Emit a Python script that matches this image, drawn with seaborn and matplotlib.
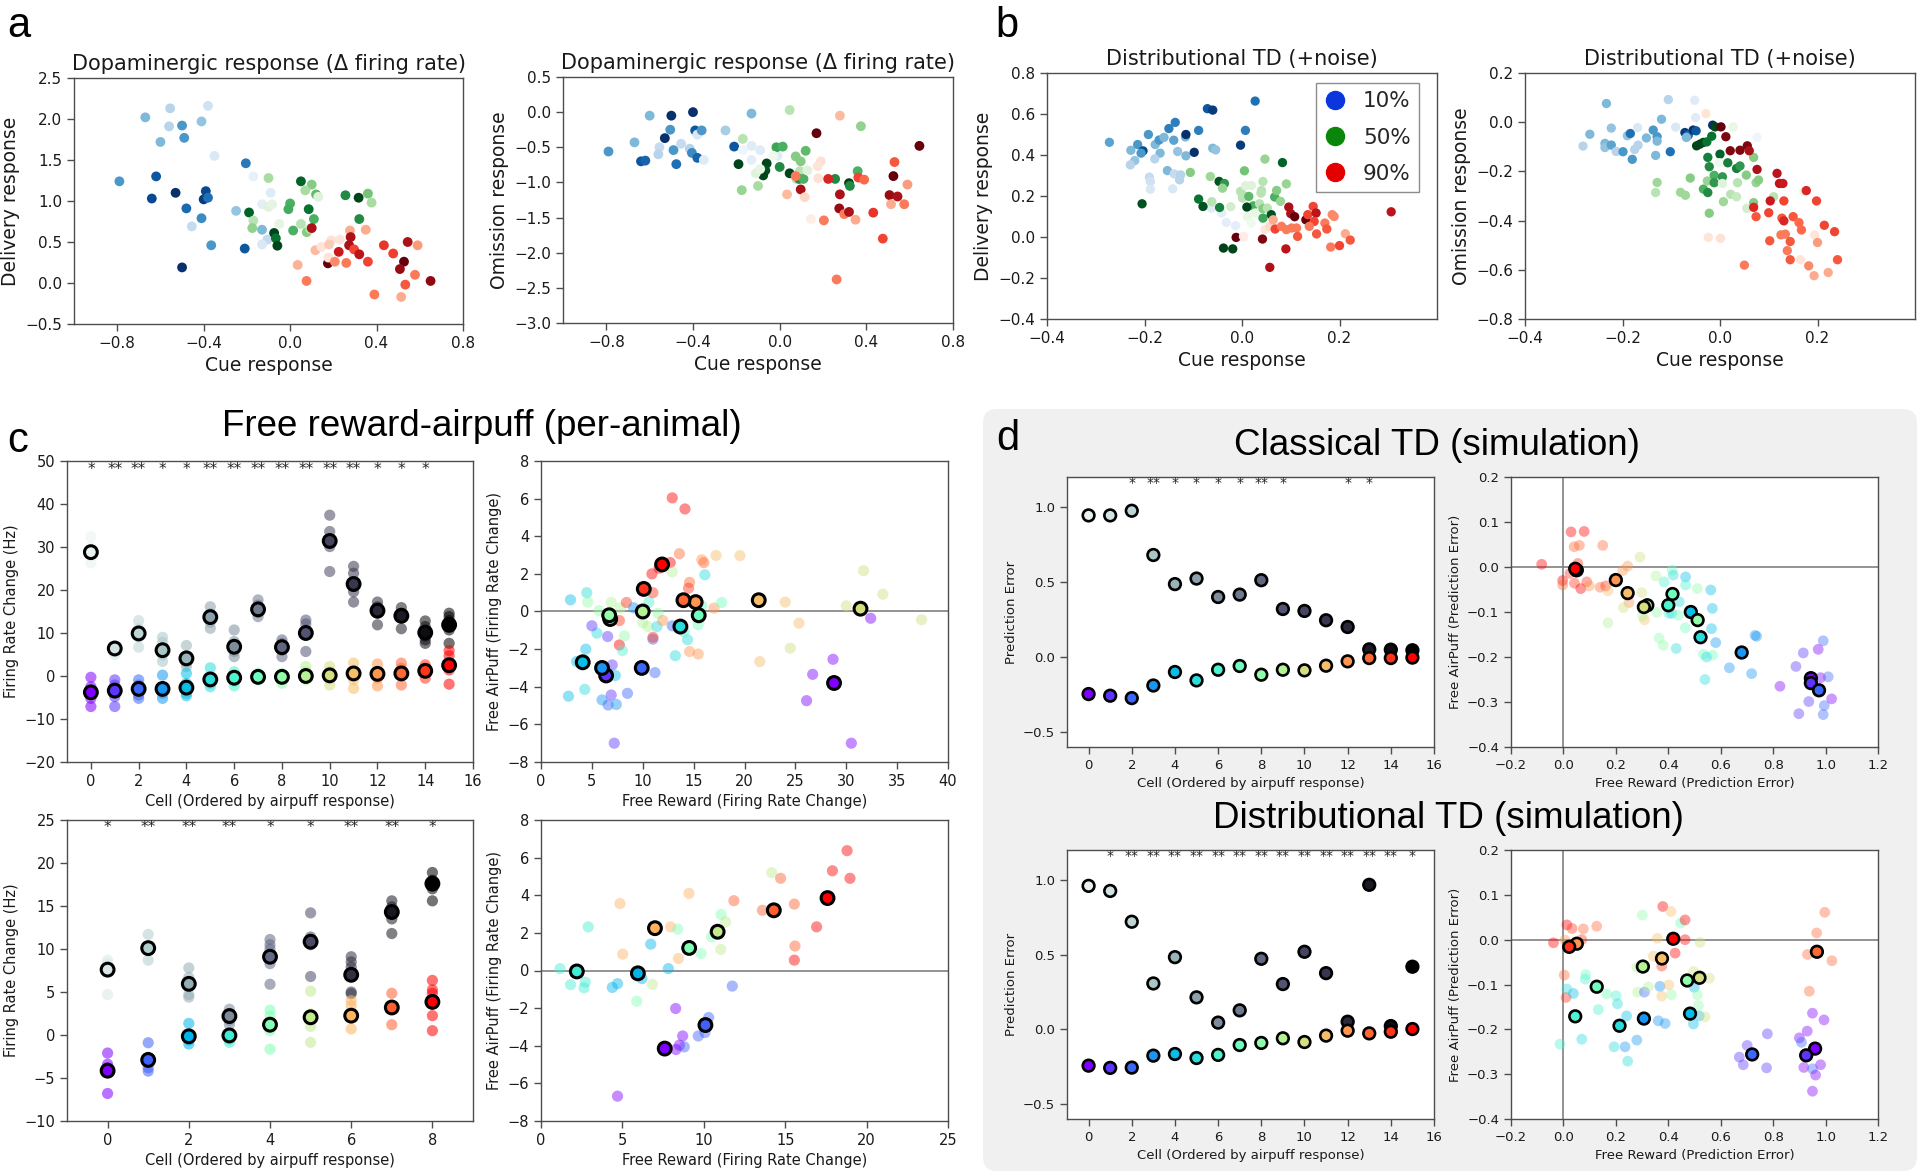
import numpy as np
import pandas as pd
import matplotlib
matplotlib.use("Agg")
import matplotlib.pyplot as plt
import seaborn as sns
from matplotlib.lines import Line2D
from matplotlib.patches import FancyBboxPatch
from matplotlib.transforms import IdentityTransform

# ---------------- data: panel a (x, y, shade) ----------------
A1_BLUE = [(-0.79, 1.24, .6), (-0.67, 2.02, .45), (-0.555, 2.13, .3), (-0.56, 1.91, .3), (-0.50, 1.92, .6),
           (-0.49, 1.77, .6), (-0.60, 1.72, .45), (-0.41, 1.97, .4), (-0.38, 2.16, .2), (-0.35, 1.55, .15),
           (-0.205, 1.46, .72), (-0.17, 1.30, .08), (-0.62, 1.30, .85), (-0.64, 1.03, .9), (-0.53, 1.10, 1.0),
           (-0.39, 1.12, .9), (-0.40, 1.02, .95), (-0.38, 1.04, .75), (-0.48, 0.91, .78), (-0.41, 0.79, .65),
           (-0.455, 0.69, .25), (-0.365, 0.46, .6), (-0.50, 0.19, 1.0), (-0.25, 0.88, .4), (-0.21, 0.42, .85),
           (-0.13, 0.65, .45), (-0.09, 1.10, .12), (-0.13, 0.96, .1), (-0.105, 0.53, .25), (-0.13, 0.47, .15)]
A1_GREEN = [(-0.10, 1.28, .35), (0.05, 1.24, .9), (0.10, 1.20, .45), (0.07, 1.13, .35), (0.12, 1.08, .55),
            (0.13, 1.05, .15), (0.256, 1.07, .75), (0.317, 1.04, 1.0), (0.36, 1.09, .5), (0.377, 0.98, .35),
            (0.32, 0.78, .75), (0.0, 0.97, .6), (-0.008, 0.90, .62), (0.086, 0.90, .85), (0.11, 0.78, .6),
            (-0.19, 0.86, .9), (-0.17, 0.76, .3), (-0.175, 0.67, .42), (-0.10, 0.93, .15), (-0.083, 0.96, .12),
            (-0.05, 0.72, .12), (-0.074, 0.61, 1.0), (-0.066, 0.545, .85), (-0.059, 0.455, 1.0), (0.014, 0.64, .6),
            (0.05, 0.72, .3), (0.077, 0.62, .45), (0.093, 0.66, .3)]
A1_RED = [(0.10, 0.67, .85), (0.117, 0.40, .25), (0.145, 0.44, .1), (0.19, 0.52, .12), (0.23, 0.53, .1),
          (0.18, 0.47, .2), (0.175, 0.24, 1.0), (0.177, 0.31, .1), (0.207, 0.26, .4), (0.225, 0.38, .75),
          (0.035, 0.22, .28), (0.076, 0.025, .45), (0.26, 0.245, .45), (0.277, 0.64, .3), (0.28, 0.56, .85),
          (0.273, 0.46, .85), (0.296, 0.41, .6), (0.32, 0.35, .8), (0.36, 0.26, .6), (0.35, 0.65, .3),
          (0.39, -0.14, .45), (0.434, 0.46, .65), (0.477, 0.36, .62), (0.544, 0.50, .85), (0.59, 0.46, .35),
          (0.527, 0.26, 1.0), (0.508, 0.17, .9), (0.578, 0.10, .45), (0.533, -0.02, .55), (0.514, -0.17, .3),
          (0.65, 0.025, .92)]

A2_BLUE = [(-0.79, -0.56, .6), (-0.67, -0.43, .45), (-0.60, -0.05, .45), (-0.50, -0.05, 1.0), (-0.40, 0.0, 1.0),
           (-0.505, -0.25, .6), (-0.53, -0.37, 1.0), (-0.555, -0.50, .25), (-0.56, -0.60, .3), (-0.49, -0.54, .6),
           (-0.455, -0.45, .25), (-0.415, -0.52, .3), (-0.405, -0.58, .65), (-0.38, -0.65, .8), (-0.39, -0.26, .85),
           (-0.38, -0.32, .15), (-0.36, -0.26, .6), (-0.35, -0.68, .12), (-0.64, -0.70, .85), (-0.62, -0.69, .8),
           (-0.477, -0.74, .75), (-0.25, -0.26, .35), (-0.21, -0.49, .85), (-0.13, -0.02, .45), (-0.13, -0.48, .12),
           (-0.09, -0.54, .12), (-0.13, -0.68, .1), (-0.17, -0.54, .05), (-0.01, -0.62, .12)]
A2_GREEN = [(0.046, 0.03, .3), (0.375, -0.20, .42), (-0.17, -0.38, .3), (-0.19, -0.74, 1.0), (-0.06, -0.73, 1.0),
            (-0.066, -0.83, .95), (-0.076, -0.90, 1.0), (-0.11, -0.87, .15), (-0.175, -1.11, .4), (-0.10, -1.05, .35),
            (-0.015, -0.50, .65), (0.014, -0.49, .6), (0.0, -0.78, .75), (0.046, -0.87, 1.0), (0.074, -0.63, .45),
            (0.097, -0.70, .45), (0.12, -0.55, .55), (0.093, -0.84, .3), (0.077, -0.95, .3), (0.09, -0.95, .75),
            (0.11, -0.95, .6), (0.128, -0.83, .15), (0.256, -0.95, .75), (0.32, -1.01, 1.0), (0.324, -1.05, .75),
            (0.36, -0.84, .6), (-0.09, -0.81, .12), (-0.03, -0.62, .05)]
A2_RED = [(0.278, -0.05, .25), (0.17, -0.30, 1.0), (0.645, -0.48, 1.0), (0.19, -0.70, .12), (0.175, -0.77, .1),
          (0.178, -0.94, .12), (0.074, -0.91, .45), (0.224, -0.95, .7), (0.097, -1.10, .85), (0.034, -1.17, .25),
          (0.116, -1.21, .15), (0.144, -1.52, .05), (0.204, -1.54, .45), (0.278, -1.17, .85), (0.275, -1.37, .9),
          (0.298, -1.45, .45), (0.32, -1.42, .85), (0.35, -1.53, .3), (0.363, -0.93, .6), (0.39, -0.96, .5),
          (0.432, -1.43, .65), (0.476, -1.80, .6), (0.263, -2.38, .45), (0.53, -0.71, .55), (0.525, -0.91, 1.0),
          (0.507, -1.18, .9), (0.544, -1.20, .85), (0.514, -1.31, .3), (0.575, -1.31, .45), (0.59, -1.03, .35)]

# ---------------- data: panel b (x, y, shade) ----------------
B1_BLUE = [(-0.272, 0.462, .55), (-0.228, 0.423, .45), (-0.214, 0.451, .6), (-0.203, 0.42, .9), (-0.207, 0.409, .6),
           (-0.22, 0.373, .4), (-0.229, 0.352, .3), (-0.192, 0.50, .6), (-0.178, 0.451, .45), (-0.17, 0.473, .6),
           (-0.16, 0.486, .45), (-0.15, 0.529, .7), (-0.137, 0.559, .7), (-0.14, 0.472, .55), (-0.168, 0.409, .45),
           (-0.179, 0.381, .3), (-0.153, 0.324, .45), (-0.139, 0.308, .25), (-0.128, 0.279, .3), (-0.126, 0.303, .3),
           (-0.19, 0.292, .25), (-0.188, 0.271, .2), (-0.188, 0.233, .15), (-0.142, 0.235, .15), (-0.132, 0.417, .4),
           (-0.116, 0.488, .45), (-0.115, 0.50, 1.0), (-0.115, 0.396, .45), (-0.098, 0.413, 1.0), (-0.089, 0.52, .7),
           (-0.071, 0.626, .85), (-0.06, 0.619, .95), (-0.06, 0.433, .45), (-0.054, 0.425, .4), (-0.003, 0.448, .95),
           (0.007, 0.52, .7), (0.027, 0.663, .75), (-0.063, 0.141, .12), (-0.042, 0.117, .1), (-0.032, 0.071, .1),
           (-0.013, 0.055, .1), (0.003, 0.0, .05)]
B1_GREEN = [(-0.205, 0.162, .95), (-0.106, 0.315, .45), (-0.065, 0.295, .38), (-0.047, 0.271, .95), (-0.036, 0.261, .7),
            (-0.04, 0.238, .4), (-0.089, 0.185, .85), (-0.08, 0.149, .95), (-0.062, 0.172, .3), (-0.046, 0.144, .8),
            (-0.023, 0.148, .2), (-0.038, -0.054, 1.0), (-0.019, -0.058, 1.0), (0.005, 0.323, .5), (-0.003, 0.222, .3),
            (0.001, 0.206, .3), (0.007, 0.25, .15), (0.019, 0.251, .15), (0.001, 0.19, .3), (0.014, 0.198, .55),
            (0.023, 0.152, .6), (0.01, 0.146, 1.0), (0.011, 0.10, .1), (0.027, 0.117, .1), (0.019, 0.068, .05),
            (0.036, 0.162, .3), (0.043, 0.138, .45), (0.043, 0.092, .65), (0.047, 0.38, .4), (0.043, 0.271, .3),
            (0.04, 0.227, .3), (0.039, 0.214, .3), (0.052, 0.141, .3), (0.06, 0.109, .95), (0.067, 0.195, .6),
            (0.071, 0.227, .45), (0.079, 0.174, .4), (0.083, 0.363, .9), (0.091, 0.259, .4)]
B1_RED = [(-0.012, -0.002, 1.0), (0.003, 0.003, .05), (0.042, -0.01, .95), (0.057, -0.148, .85), (0.047, 0.036, .1),
          (0.057, 0.052, .15), (0.064, 0.084, .3), (0.068, 0.039, .6), (0.09, -0.058, .8), (0.096, 0.146, .85),
          (0.1, 0.114, .85), (0.108, 0.099, 1.0), (0.131, 0.084, 1.0), (0.081, 0.052, .45), (0.091, 0.036, .45),
          (0.102, 0.044, .45), (0.112, 0.044, .45), (0.114, 0.003, .55), (0.135, 0.109, .6), (0.146, 0.149, .6),
          (0.152, 0.117, .8), (0.148, 0.076, .6), (0.138, 0.052, .45), (0.153, 0.015, .55), (0.17, 0.068, .45),
          (0.174, 0.039, .55), (0.185, 0.109, .4), (0.189, 0.10, .4), (0.182, -0.049, .45), (0.20, -0.042, .6),
          (0.212, 0.016, .3), (0.222, -0.015, .55), (0.306, 0.123, .8)]

B2_BLUE = [(-0.281, -0.097, .3), (-0.267, -0.049, .45), (-0.233, 0.076, .45), (-0.236, -0.086, .45), (-0.236, -0.103, .4),
           (-0.223, -0.093, .55), (-0.223, -0.024, .4), (-0.213, -0.119, .3), (-0.199, -0.12, .6), (-0.19, -0.055, .4),
           (-0.184, -0.046, .75), (-0.18, -0.151, .6), (-0.175, -0.111, .3), (-0.168, -0.093, .3), (-0.169, -0.022, .15),
           (-0.151, -0.064, .45), (-0.137, -0.032, .6), (-0.129, -0.059, .6), (-0.129, -0.077, .45), (-0.132, -0.135, .45),
           (-0.12, 0.012, .45), (-0.102, -0.12, .75), (-0.106, 0.092, .3), (-0.091, -0.02, .15), (-0.072, -0.042, .95),
           (-0.065, -0.053, .75), (-0.069, -0.062, .45), (-0.055, -0.032, 1.0), (-0.049, -0.035, .85), (-0.052, 0.089, .12),
           (-0.05, 0.019, .12), (-0.015, -0.012, 1.0), (0.076, -0.062, .05)]
B2_GREEN = [(-0.129, -0.245, .38), (-0.132, -0.286, .3), (-0.081, -0.285, .38), (-0.071, -0.297, .38), (-0.061, -0.227, .45),
            (-0.048, -0.096, 1.0), (-0.041, -0.089, 1.0), (-0.034, -0.082, 1.0), (-0.027, -0.08, .85), (-0.017, -0.057, .85),
            (-0.01, -0.019, 1.0), (-0.025, -0.143, .8), (-0.022, -0.181, .75), (-0.034, -0.272, .6), (-0.025, -0.286, .75),
            (-0.026, -0.239, .4), (-0.012, -0.216, .6), (-0.012, -0.246, .7), (0.0, -0.13, .9), (-0.001, -0.165, .05),
            (0.005, -0.222, .7), (-0.022, -0.37, .45), (0.007, -0.323, .38), (0.016, -0.165, .8), (0.005, -0.249, .15),
            (0.022, -0.293, .3), (0.034, -0.303, .25), (0.036, -0.246, .3), (0.034, -0.188, .8), (0.041, -0.178, .7),
            (0.054, -0.215, .45), (0.069, -0.143, .45), (0.074, -0.246, .4), (0.079, -0.235, .45), (0.069, -0.327, .45),
            (0.055, -0.35, .2), (0.11, -0.303, .3), (0.172, -0.282, .1), (0.027, -0.019, .1)]
B2_RED = [(-0.029, 0.035, .1), (0.002, -0.019, 1.0), (0.012, -0.059, .95), (0.021, -0.116, .95), (0.041, -0.114, .95),
          (0.056, -0.096, .95), (0.06, -0.116, .85), (0.076, -0.192, .85), (0.117, -0.208, .8), (0.122, -0.249, .8),
          (0.129, -0.249, .75), (0.103, -0.32, .75), (0.131, -0.32, .6), (0.177, -0.278, .7), (0.198, -0.32, .6),
          (0.069, -0.346, .7), (0.074, -0.384, .55), (0.1, -0.368, .6), (0.127, -0.39, .55), (0.131, -0.401, .7),
          (0.15, -0.384, .55), (0.162, -0.408, .5), (0.167, -0.438, .5), (0.214, -0.419, .6), (0.235, -0.445, .6),
          (0.102, -0.482, .55), (0.125, -0.458, .45), (0.134, -0.455, .45), (0.144, -0.485, .55), (0.138, -0.522, .45),
          (0.144, -0.559, .55), (0.165, -0.559, .1), (0.05, -0.581, .45), (0.182, -0.584, .4), (0.194, -0.458, .1),
          (0.2, -0.489, .35), (0.193, -0.624, .3), (0.222, -0.611, .3), (0.241, -0.559, .55), (-0.024, -0.468, .1),
          (0.001, -0.472, .12)]

LEGEND_LABELS = ["10%", "50%", "90%"]
LEGEND_COLORS = ["#0a36dc", "#0a870a", "#e30000"]

# ---------------- data: panel c (16 cells) ----------------
C16_REW_MEAN = [28.8, 6.4, 9.9, 6.0, 4.1, 13.7, 6.8, 15.5, 6.7, 10.0, 31.4, 21.4, 15.2, 14.0, 10.1, 11.9]
C16_PUFF_MEAN = [-3.8, -3.4, -3.0, -3.0, -2.7, -0.8, -0.4, -0.2, -0.2, 0.0, 0.15, 0.6, 0.5, 0.6, 1.2, 2.5]
C16_REW_PTS = [[32.4, 30.0, 28.0, 26.3], [6.9, 5.0, 6.2], [12.9, 11.0, 9.0, 6.7], [9.0, 7.8, 6.4, 4.9, 3.4],
               [7.1, 4.5, 3.0, 2.2], [16.1, 14.5, 12.5, 11.1], [10.7, 8.0, 7.2, 5.7, 4.5], [17.7, 16.5, 14.8, 13.8],
               [8.4, 7.6, 6.0, 4.5], [13.0, 12.1, 10.7, 5.7], [37.4, 33.6, 31.3, 30.1, 24.3],
               [25.5, 23.9, 20.8, 19.6, 17.2], [17.2, 16.1, 14.6, 11.9], [15.9, 14.6, 13.8, 11.0],
               [12.8, 11.5, 9.3, 8.4, 7.6], [14.6, 13.8, 12.9, 10.7, 7.6]]
C16_PUFF_PTS = [[-0.3, -2.5, -5.2, -7.1], [-0.9, -2.1, -4.8, -7.1], [-0.9, -2.1, -4.4, -5.2], [0.2, -4.0, -5.2],
                [0.6, -1.7, -4.0, -4.6], [1.9, -1.7, -2.5], [1.0, -1.3, -2.3], [0.6, -0.9], [0.6, -1.7],
                [2.2, 1.0, -0.9], [2.2, 1.0, -2.1], [3.0, -0.9, -2.9], [2.8, -0.5, -2.3], [3.0, 1.8, -2.1],
                [2.6, 1.8, -0.5], [5.9, 4.7, 1.4, -1.9]]
C16_STARS = ["*", "**", "**", "*", "*", "**", "**", "**", "**", "**", "**", "**", "*", "*", "*", ""]
C16_PAIR_PTS = [(2.9, 0.62, 4), (4.5, 1.0, 5), (4.6, 0.5, 8), (5.7, 0.05, 8), (6.9, 0.48, 9), (7.0, -0.44, 8),
                (7.8, 0.2, 9), (8.4, 0.48, 14), (7.7, -0.48, 14), (7.7, -1.78, 15), (8.0, -2.08, 6), (8.2, -1.3, 8),
                (9.1, 0.2, 3), (5.5, -1.15, 5), (5.0, -0.76, 1), (6.55, -1.33, 1), (4.4, -2.0, 4), (3.5, -2.66, 4),
                (7.0, -2.84, 1), (7.3, -3.4, 4), (2.7, -4.5, 4), (4.3, -4.14, 5), (6.0, -4.7, 3), (6.6, -4.97, 2),
                (7.4, -4.94, 3), (6.9, -4.44, 1), (8.5, -4.35, 2), (7.2, -7.0, 1), (10.0, -0.6, 9), (10.6, 0.5, 6),
                (10.9, 2.0, 15), (11.0, 1.0, 14), (11.0, -1.47, 2), (11.2, -3.25, 2), (10.5, -0.8, 9), (11.4, -0.8, 5),
                (11.0, -1.37, 14), (11.6, 2.3, 15), (12.7, 2.6, 15), (12.9, 2.1, 9), (11.5, -0.1, 8), (11.97, -0.48, 12),
                (12.9, 6.04, 15), (14.15, 5.45, 15), (13.6, 3.07, 13), (14.6, 1.55, 13), (14.5, 1.24, 14),
                (12.9, -0.76, 2), (13.2, -2.35, 5), (14.4, -1.5, 5), (14.05, -1.07, 6), (14.6, -2.13, 12),
                (15.45, -2.26, 12), (15.45, -0.7, 7), (15.8, 0.3, 7), (15.8, 2.75, 12), (16.0, 2.6, 13),
                (16.1, 1.95, 5), (17.0, 0.18, 12), (17.75, 0.48, 7), (17.2, 2.98, 11), (19.55, 2.97, 11),
                (24.0, 0.5, 11), (25.35, -0.62, 11), (24.5, -1.95, 10), (21.5, -2.66, 11), (31.7, 2.17, 10),
                (33.6, 0.92, 10), (30.0, 0.3, 10), (37.4, -0.44, 10), (32.4, -0.36, 0), (28.7, -2.54, 0),
                (26.7, -3.34, 0), (26.1, -4.74, 0), (30.5, -7.0, 0)]

# ---------------- data: panel c (9 cells) ----------------
C9_REW_MEAN = [7.6, 10.1, 5.95, 2.2, 9.1, 10.85, 7.0, 14.3, 17.6]
C9_PUFF_MEAN = [-4.15, -2.9, -0.15, -0.05, 1.2, 2.06, 2.25, 3.2, 3.85]
C9_REW_PTS = [[8.7, 8.3, 7.7, 4.7], [11.7, 10.2, 8.7], [7.8, 6.7, 5.6, 4.7, 4.4], [3.0, 2.5, 1.7, 1.2],
              [11.1, 10.5, 10.0, 8.3, 5.9], [14.2, 11.4, 10.5, 6.8], [9.1, 8.5, 7.9, 5.0, 4.8],
              [15.6, 14.9, 13.5, 11.8], [18.9, 18.0, 17.0, 15.6]]
C9_PUFF_PTS = [[-2.1, -3.4, -3.8, -6.8], [-0.9, -2.6, -3.8, -4.2], [1.35, -0.6, -1.05], [-0.5, -0.85],
               [2.9, 2.2, 0.5, -1.65], [5.1, 2.45, 1.0, -0.85], [4.0, 3.4, 0.7], [4.85, 1.2],
               [6.35, 5.25, 4.85, 2.25, 0.5]]
C9_STARS = ["*", "**", "**", "**", "*", "*", "**", "**", "*"]
C9_PAIR_PTS = [(1.17, 0.1, 3), (1.82, -0.75, 3), (2.64, -0.92, 3), (2.72, -0.62, 3), (2.9, 2.32, 3), (4.38, -0.9, 2),
               (4.7, -0.7, 2), (6.2, -0.43, 2), (6.74, 1.4, 2), (7.82, 0.1, 2), (4.85, 3.56, 6), (5.02, 0.87, 6),
               (5.88, -1.63, 4), (6.84, -0.74, 5), (7.96, 2.32, 6), (8.4, 2.2, 4), (8.44, 0.64, 6), (9.09, 4.1, 6),
               (9.83, 0.9, 4), (10.48, 1.79, 4), (11.06, 2.98, 4), (11.34, 2.59, 5), (11.04, 1.12, 5), (11.85, 3.71, 7),
               (13.6, 3.2, 7), (14.17, 5.2, 5), (14.72, 4.9, 7), (15.56, 3.53, 7), (15.6, 1.3, 7), (15.56, 0.55, 8),
               (16.93, 2.32, 8), (17.9, 5.3, 8), (18.8, 6.37, 8), (18.98, 4.9, 8), (11.75, -0.83, 1), (8.27, -2.02, 0),
               (8.7, -3.48, 0), (8.29, -4.2, 0), (8.5, -3.97, 0), (4.7, -6.68, 0), (8.8, -4.06, 1), (9.66, -3.48, 1),
               (10.07, -3.3, 1), (10.3, -2.5, 1)]

# ---------------- data: panel d ----------------
D_CL_REW = [0.944, 0.944, 0.975, 0.68, 0.486, 0.523, 0.40, 0.416, 0.512, 0.32, 0.307, 0.245, 0.20, 0.051, 0.049, 0.045]
D_CL_PUFF = [-0.247, -0.258, -0.274, -0.19, -0.10, -0.156, -0.085, -0.06, -0.118, -0.085, -0.089, -0.058, -0.029,
             -0.007, -0.007, -0.004]
D_CL_STARS = ["", "", "*", "**", "*", "*", "*", "*", "**", "*", "", "", "*", "*", "", ""]
D_CL_PAIR_PTS = [(-0.083, 0.006, 15), (0.029, 0.078, 15), (0.079, 0.079, 15), (0.041, 0.045, 13), (0.061, 0.048, 13),
                 (0.15, 0.048, 13), (0.055, 0.008, 14), (-0.003, -0.03, 15), (-0.003, -0.04, 13), (0.025, -0.014, 14),
                 (0.042, -0.036, 14), (0.066, -0.048, 15), (0.089, -0.033, 14), (0.099, -0.042, 12), (0.14, -0.045, 13),
                 (0.161, -0.042, 14), (0.17, -0.053, 11), (0.226, -0.008, 12), (0.245, 0.002, 12), (0.25, -0.079, 12),
                 (0.229, -0.09, 10), (0.292, 0.022, 10), (0.299, -0.057, 10), (0.17, -0.124, 9), (0.309, -0.117, 11),
                 (0.302, -0.109, 9), (0.353, -0.02, 9), (0.356, -0.101, 8), (0.365, -0.158, 8), (0.381, -0.174, 8),
                 (0.384, -0.033, 6), (0.415, -0.007, 7), (0.419, -0.018, 5), (0.402, -0.103, 6), (0.413, -0.103, 5),
                 (0.438, -0.107, 7), (0.442, -0.077, 5), (0.466, -0.022, 4), (0.466, -0.04, 6), (0.465, -0.135, 7),
                 (0.43, -0.181, 5), (0.511, -0.048, 8), (0.562, -0.051, 4), (0.568, -0.092, 4), (0.565, -0.137, 4),
                 (0.581, -0.168, 3), (0.534, -0.194, 7), (0.569, -0.196, 7), (0.546, -0.2, 5), (0.54, -0.25, 5),
                 (0.633, -0.224, 3), (0.718, -0.237, 3), (0.731, -0.152, 3), (0.737, -0.154, 3), (0.826, -0.265, 0),
                 (0.887, -0.221, 1), (0.915, -0.191, 1), (0.972, -0.183, 0), (0.991, -0.164, 2), (0.981, -0.246, 0),
                 (1.01, -0.244, 2), (1.023, -0.293, 0), (0.936, -0.299, 1), (0.995, -0.308, 2), (0.991, -0.328, 2),
                 (0.898, -0.326, 1)]

D_DI_REW = [0.96, 0.926, 0.72, 0.307, 0.483, 0.214, 0.045, 0.127, 0.472, 0.303, 0.519, 0.376, 0.051, 0.967, 0.022, 0.419]
D_DI_PUFF = [-0.243, -0.258, -0.256, -0.176, -0.165, -0.192, -0.171, -0.105, -0.091, -0.06, -0.085, -0.042, -0.009,
             -0.027, -0.016, 0.002]
D_DI_STARS = ["", "*", "**", "**", "**", "**", "**", "**", "**", "**", "**", "**", "**", "**", "**", "*"]
D_DI_PAIR_PTS = [(-0.038, -0.007, 15), (0.013, 0.033, 15), (0.033, 0.025, 14), (0.006, -0.001, 12), (0.076, 0.024, 13),
                 (0.127, 0.03, 13), (0.07, 0.0, 14), (0.003, -0.079, 13), (0.01, -0.129, 14), (0.013, -0.11, 5),
                 (0.038, -0.12, 4), (-0.013, -0.233, 6), (0.07, -0.222, 5), (0.085, -0.078, 7), (0.083, -0.088, 6),
                 (0.133, -0.156, 6), (0.165, -0.121, 7), (0.201, -0.125, 6), (0.206, -0.143, 5), (0.193, -0.239, 5),
                 (0.235, -0.239, 3), (0.241, -0.17, 4), (0.245, -0.271, 5), (0.28, -0.224, 3), (0.301, 0.055, 8),
                 (0.28, -0.062, 9), (0.283, -0.117, 9), (0.309, -0.117, 2), (0.324, -0.105, 9), (0.343, -0.037, 11),
                 (0.358, 0.003, 11), (0.368, -0.104, 3), (0.375, -0.059, 14), (0.375, -0.126, 11), (0.379, 0.074, 15),
                 (0.41, 0.063, 11), (0.402, -0.101, 11), (0.412, -0.123, 8), (0.362, -0.181, 3), (0.388, -0.187, 3),
                 (0.426, -0.03, 15), (0.447, 0.037, 7), (0.464, 0.044, 15), (0.464, 0.0, 15), (0.496, -0.071, 10),
                 (0.499, -0.106, 4), (0.511, -0.123, 8), (0.515, -0.147, 8), (0.496, -0.188, 4), (0.518, -0.17, 4),
                 (0.54, -0.172, 10), (0.521, -0.006, 10), (0.557, -0.086, 10), (0.671, -0.262, 1), (0.686, -0.279, 1),
                 (0.701, -0.236, 1), (0.775, -0.286, 1), (0.778, -0.21, 1), (0.9, -0.219, 0), (0.908, -0.229, 2),
                 (0.93, -0.204, 0), (0.95, -0.164, 0), (0.994, -0.179, 0), (0.917, -0.285, 0), (0.95, -0.288, 2),
                 (0.962, -0.302, 0), (0.981, -0.279, 0), (0.95, -0.338, 0), (0.997, 0.061, 13), (0.966, 0.015, 13),
                 (0.931, -0.033, 13), (1.024, -0.047, 13), (0.938, -0.115, 13)]

# ---------------- figure ----------------
sns.set_style("ticks")
plt.rcParams["font.family"] = ["DejaVu Sans"]
W, H = 1920, 1173
fig = plt.figure(figsize=(W / 100, H / 100), dpi=100)
fig.patch.set_facecolor("white")

# gray rounded box behind panel d
fig.patches.append(FancyBboxPatch((983, H - 1171), 934, 762, boxstyle="round,pad=0,rounding_size=14",
                                  transform=IdentityTransform(), facecolor="#f0f0f0", edgecolor="none", zorder=-5))


def add_ax(x0, y0, x1, y1):
    return fig.add_axes([x0 / W, 1 - y1 / H, (x1 - x0) / W, (y1 - y0) / H])


def style(ax, tick_fs):
    for sp in ax.spines.values():
        sp.set_color("0.3")
        sp.set_linewidth(1.0)
    ax.tick_params(direction="out", length=5, width=1, color="0.3", labelcolor="0.1",
                   labelsize=tick_fs, top=False, right=False)


def shade_scatter(ax, pts, cmap, s):
    df = pd.DataFrame(pts, columns=["x", "y", "shade"])
    sns.scatterplot(data=df, x="x", y="y", hue="shade", palette=cmap, hue_norm=(0, 1),
                    s=s, linewidth=0, legend=False, ax=ax)


def scatter_panel(ax, groups, title, ylabel, xlim, ylim, xticks, yticks, s):
    for pts, cmap in zip(groups, ["Blues", "Greens", "Reds"]):
        shade_scatter(ax, pts, cmap, s)
    ax.set_xlim(*xlim)
    ax.set_ylim(*ylim)
    ax.set_xticks(xticks)
    ax.set_yticks(yticks)
    ax.set_title(title, fontsize=15, color="0.1", pad=6)
    ax.set_xlabel("Cue response", fontsize=13.5, color="0.1")
    ax.set_ylabel(ylabel, fontsize=13.5, color="0.1")
    style(ax, 11)


def cell_panel(ax, rew_pts, puff_pts, rew_mean, puff_mean, stars, star_y, s_f, s_m, lw, star_fs):
    n = len(rew_mean)
    if rew_pts is not None:
        rr = pd.DataFrame([(i, v) for i, vals in enumerate(rew_pts) for v in vals], columns=["cell", "v"])
        pp = pd.DataFrame([(i, v) for i, vals in enumerate(puff_pts) for v in vals], columns=["cell", "v"])
        sns.scatterplot(data=rr, x="cell", y="v", hue="cell", palette="bone_r", hue_norm=(-1, n - 1),
                        alpha=0.55, s=s_f, linewidth=0, legend=False, ax=ax)
        sns.scatterplot(data=pp, x="cell", y="v", hue="cell", palette="rainbow", hue_norm=(0, n - 1),
                        alpha=0.55, s=s_f, linewidth=0, legend=False, ax=ax)
    cells = np.arange(n)
    sns.scatterplot(x=cells, y=rew_mean, hue=cells, palette="bone_r", hue_norm=(-1, n - 1),
                    s=s_m, edgecolor="black", linewidth=lw, legend=False, ax=ax, zorder=3)
    sns.scatterplot(x=cells, y=puff_mean, hue=cells, palette="rainbow", hue_norm=(0, n - 1),
                    s=s_m, edgecolor="black", linewidth=lw, legend=False, ax=ax, zorder=3)
    for i, st in enumerate(stars):
        if st:
            ax.text(i, star_y, st, ha="center", va="center", fontsize=star_fs, color="0.15")


def pair_panel(ax, pair_pts, rew_mean, puff_mean, s_f, s_m, lw, alpha, vline):
    n = len(rew_mean)
    ax.axhline(0, color="0.5", lw=1.2, zorder=0)
    if vline:
        ax.axvline(0, color="0.5", lw=1.2, zorder=0)
    df = pd.DataFrame(pair_pts, columns=["x", "y", "cell"])
    sns.scatterplot(data=df, x="x", y="y", hue="cell", palette="rainbow", hue_norm=(0, n - 1),
                    alpha=alpha, s=s_f, linewidth=0, legend=False, ax=ax)
    cells = np.arange(n)
    sns.scatterplot(x=rew_mean, y=puff_mean, hue=cells, palette="rainbow", hue_norm=(0, n - 1),
                    s=s_m, edgecolor="black", linewidth=lw, legend=False, ax=ax, zorder=3)


# ---- panel a ----
ax = add_ax(74, 78, 463, 324)
scatter_panel(ax, [A1_BLUE, A1_GREEN, A1_RED], "Dopaminergic response (\u0394 firing rate)", "Delivery response",
              (-1.0, 0.8), (-0.5, 2.5), [-0.8, -0.4, 0.0, 0.4, 0.8], np.arange(-0.5, 2.51, 0.5), 50)
ax = add_ax(563, 77, 953, 323)
scatter_panel(ax, [A2_BLUE, A2_GREEN, A2_RED], "Dopaminergic response (\u0394 firing rate)", "Omission response",
              (-1.0, 0.8), (-3.0, 0.5), [-0.8, -0.4, 0.0, 0.4, 0.8], np.arange(-3.0, 0.51, 0.5), 50)

# ---- panel b ----
ax = add_ax(1047, 73, 1437, 319)
scatter_panel(ax, [B1_BLUE, B1_GREEN, B1_RED], "Distributional TD (+noise)", "Delivery response",
              (-0.4, 0.4), (-0.4, 0.8), [-0.4, -0.2, 0.0, 0.2], np.arange(-0.4, 0.81, 0.2), 45)
handles = [Line2D([], [], marker="o", ls="", color=c, markersize=13) for c in LEGEND_COLORS]
leg = ax.legend(handles, LEGEND_LABELS, loc="upper right", bbox_to_anchor=(0.955, 0.96), borderaxespad=0,
                fontsize=15.5, handlelength=1.0, handletextpad=0.8, labelspacing=0.75, fancybox=False,
                framealpha=1, edgecolor="0.55")
ax = add_ax(1525, 73, 1915, 319)
scatter_panel(ax, [B2_BLUE, B2_GREEN, B2_RED], "Distributional TD (+noise)", "Omission response",
              (-0.4, 0.4), (-0.8, 0.2), [-0.4, -0.2, 0.0, 0.2], np.arange(-0.8, 0.21, 0.2), 45)

# ---- panel c ----
ax = add_ax(67, 461, 473, 762)
cell_panel(ax, C16_REW_PTS, C16_PUFF_PTS, C16_REW_MEAN, C16_PUFF_MEAN, C16_STARS, 48.1, 65, 85, 2.2, 11)
ax.set_xlim(-1, 16); ax.set_ylim(-20, 50)
ax.set_xticks(range(0, 17, 2)); ax.set_yticks(range(-20, 51, 10))
ax.set_xlabel("Cell (Ordered by airpuff response)", fontsize=10.5, color="0.1")
ax.set_ylabel("Firing Rate Change (Hz)", fontsize=10.5, color="0.1")
style(ax, 10.5)

ax = add_ax(541, 461, 948, 762)
pair_panel(ax, C16_PAIR_PTS, C16_REW_MEAN, C16_PUFF_MEAN, 65, 85, 2.2, 0.45, False)
ax.set_xlim(0, 40); ax.set_ylim(-8, 8)
ax.set_xticks(range(0, 41, 5)); ax.set_yticks(range(-8, 9, 2))
ax.set_xlabel("Free Reward (Firing Rate Change)", fontsize=10.5, color="0.1")
ax.set_ylabel("Free AirPuff (Firing Rate Change)", fontsize=10.5, color="0.1")
style(ax, 10.5)

ax = add_ax(67, 820, 473, 1121)
cell_panel(ax, C9_REW_PTS, C9_PUFF_PTS, C9_REW_MEAN, C9_PUFF_MEAN, C9_STARS, 24.1, 65, 85, 2.2, 11)
ax.set_xlim(-1, 9); ax.set_ylim(-10, 25)
ax.set_xticks(range(0, 9, 2)); ax.set_yticks(range(-10, 26, 5))
ax.set_xlabel("Cell (Ordered by airpuff response)", fontsize=10.5, color="0.1")
ax.set_ylabel("Firing Rate Change (Hz)", fontsize=10.5, color="0.1")
style(ax, 10.5)

ax = add_ax(541, 820, 948, 1121)
pair_panel(ax, C9_PAIR_PTS, C9_REW_MEAN, C9_PUFF_MEAN, 65, 85, 2.2, 0.45, False)
ax.set_xlim(0, 25); ax.set_ylim(-8, 8)
ax.set_xticks(range(0, 26, 5)); ax.set_yticks(range(-8, 9, 2))
ax.set_xlabel("Free Reward (Firing Rate Change)", fontsize=10.5, color="0.1")
ax.set_ylabel("Free AirPuff (Firing Rate Change)", fontsize=10.5, color="0.1")
style(ax, 10.5)

# ---- panel d ----
for (top, bot), rew, puff, stars, pairs in [((477, 747), D_CL_REW, D_CL_PUFF, D_CL_STARS, D_CL_PAIR_PTS),
                                            ((850, 1119), D_DI_REW, D_DI_PUFF, D_DI_STARS, D_DI_PAIR_PTS)]:
    ax = add_ax(1067, top, 1434, bot)
    cell_panel(ax, None, None, rew, puff, stars, 1.157, 0, 70, 1.9, 10)
    ax.set_xlim(-1, 16); ax.set_ylim(-0.6, 1.2)
    ax.set_xticks(range(0, 17, 2)); ax.set_yticks([-0.5, 0.0, 0.5, 1.0])
    ax.set_xlabel("Cell (Ordered by airpuff response)", fontsize=9.5, color="0.1")
    ax.set_ylabel("Prediction Error", fontsize=9.5, color="0.1")
    style(ax, 9.5)

    ax = add_ax(1511, top, 1878, bot)
    pair_panel(ax, pairs, rew, puff, 60, 70, 1.9, 0.4, True)
    ax.set_xlim(-0.2, 1.2); ax.set_ylim(-0.4, 0.2)
    ax.set_xticks(np.round(np.arange(-0.2, 1.21, 0.2), 1)); ax.set_yticks(np.round(np.arange(-0.4, 0.21, 0.1), 1))
    ax.set_xlabel("Free Reward (Prediction Error)", fontsize=9.5, color="0.1")
    ax.set_ylabel("Free AirPuff (Prediction Error)", fontsize=9.5, color="0.1")
    style(ax, 9.5)

# ---- big titles and panel letters ----
big = dict(family="Liberation Sans", color="black")
fig.text(482 / W, 1 - 426 / H, "Free reward-airpuff (per-animal)", ha="center", va="center", fontsize=26.5, **big)
fig.text(1437 / W, 1 - 445 / H, "Classical TD (simulation)", ha="center", va="center", fontsize=26.5, **big)
fig.text(1448 / W, 1 - 818 / H, "Distributional TD (simulation)", ha="center", va="center", fontsize=26.5, **big)
for letter, x, y in [("a", 7, 37), ("b", 995, 37), ("c", 7, 452), ("d", 996, 450)]:
    fig.text(x / W, 1 - y / H, letter, ha="left", va="baseline", fontsize=30, **big)

fig.savefig("out.png", dpi=100, facecolor="white")
